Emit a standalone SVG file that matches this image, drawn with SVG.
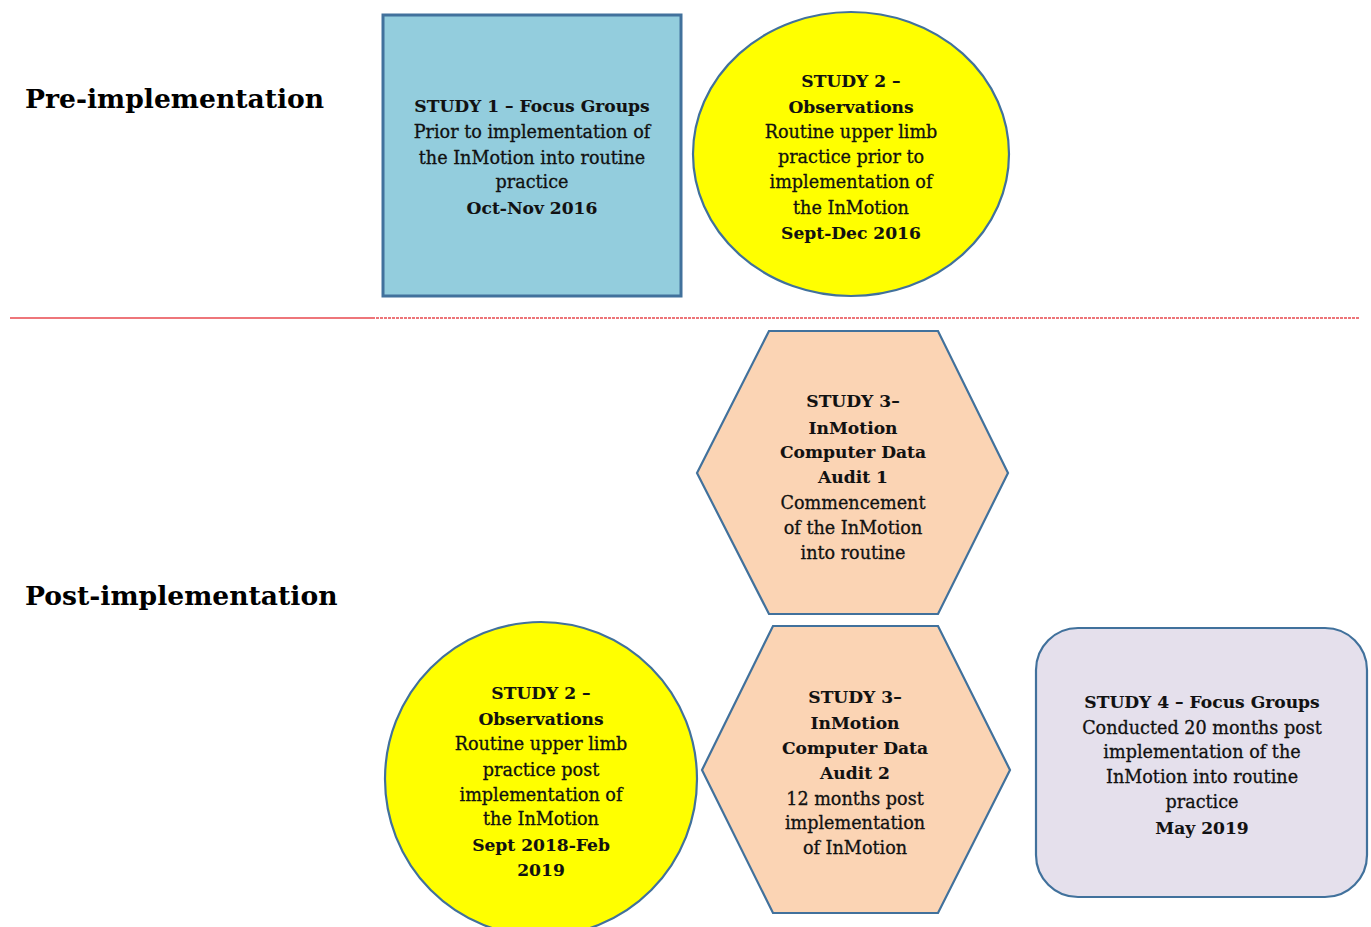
<svg xmlns="http://www.w3.org/2000/svg" width="1371" height="927" viewBox="0 0 1371 927">
<style>
  .shape { stroke: #41719C; stroke-width: 2.2; }
  .t { font-family: "DejaVu Serif", "Liberation Serif", serif; font-size: 17.6px; fill: #111; text-anchor: middle; stroke: #111; stroke-width: 0.3; }
  .b { font-weight: bold; font-size: 17.1px; stroke-width: 0.1; }
  .title { font-family: "DejaVu Serif", "Liberation Serif", serif; font-size: 26.6px; font-weight: bold; fill: #000; }
  .sep { stroke: #E8484E; stroke-width: 1.6; fill: none; }
</style>
<rect width="1371" height="927" fill="#FFFFFF"/>

<g id="labels">
  <text class="title" x="25" y="108">Pre-implementation</text>
  <text class="title" x="25" y="605">Post-implementation</text>
</g>

<g id="connectors">
  <line class="sep" x1="10" y1="318" x2="372" y2="318"/>
  <line class="sep" x1="372" y1="318" x2="1360" y2="318" stroke-dasharray="3 1"/>
</g>

<g id="study1">
  <rect class="shape" x="383" y="15" width="298" height="281" fill="#93CDDD" style="stroke-width:3"/>
  <text class="t b" x="532" y="112">STUDY 1 – Focus Groups</text>
  <text class="t" x="532" y="138">Prior to implementation of</text>
  <text class="t" x="532" y="164">the InMotion into routine</text>
  <text class="t" x="532" y="188">practice</text>
  <text class="t b" x="532" y="214">Oct-Nov 2016</text>
</g>

<g id="study2pre">
  <ellipse class="shape" cx="851" cy="154" rx="158" ry="142" fill="#FFFF00"/>
  <text class="t b" x="851" y="87">STUDY 2 –</text>
  <text class="t b" x="851" y="113">Observations</text>
  <text class="t" x="851" y="138">Routine upper limb</text>
  <text class="t" x="851" y="163">practice prior to</text>
  <text class="t" x="851" y="188">implementation of</text>
  <text class="t" x="851" y="214">the InMotion</text>
  <text class="t b" x="851" y="239">Sept-Dec 2016</text>
</g>

<g id="study3a">
  <polygon class="shape" points="769,331 938,331 1008,473 938,614 769,614 697,473" fill="#FBD4B4"/>
  <text class="t b" x="853" y="407">STUDY 3–</text>
  <text class="t b" x="853" y="434">InMotion</text>
  <text class="t b" x="853" y="458">Computer Data</text>
  <text class="t b" x="853" y="483">Audit 1</text>
  <text class="t" x="853" y="509">Commencement</text>
  <text class="t" x="853" y="534">of the InMotion</text>
  <text class="t" x="853" y="559">into routine</text>
</g>

<g id="study2post">
  <ellipse class="shape" cx="541" cy="779" rx="156" ry="157" fill="#FFFF00"/>
  <text class="t b" x="541" y="699">STUDY 2 –</text>
  <text class="t b" x="541" y="725">Observations</text>
  <text class="t" x="541" y="750">Routine upper limb</text>
  <text class="t" x="541" y="776">practice post</text>
  <text class="t" x="541" y="801">implementation of</text>
  <text class="t" x="541" y="825">the InMotion</text>
  <text class="t b" x="541" y="851">Sept 2018-Feb</text>
  <text class="t b" x="541" y="876">2019</text>
</g>

<g id="study3b">
  <polygon class="shape" points="773,626 938,626 1010,770 938,913 773,913 702,770" fill="#FBD4B4"/>
  <text class="t b" x="855" y="703">STUDY 3–</text>
  <text class="t b" x="855" y="729">InMotion</text>
  <text class="t b" x="855" y="754">Computer Data</text>
  <text class="t b" x="855" y="779">Audit 2</text>
  <text class="t" x="855" y="805">12 months post</text>
  <text class="t" x="855" y="829">implementation</text>
  <text class="t" x="855" y="854">of InMotion</text>
</g>

<g id="study4">
  <rect class="shape" x="1036" y="628" width="331" height="269" rx="42" ry="42" fill="#E5E0EC"/>
  <text class="t b" x="1202" y="708">STUDY 4 – Focus Groups</text>
  <text class="t" x="1202" y="734">Conducted 20 months post</text>
  <text class="t" x="1202" y="758">implementation of the</text>
  <text class="t" x="1202" y="783">InMotion into routine</text>
  <text class="t" x="1202" y="808">practice</text>
  <text class="t b" x="1202" y="834">May 2019</text>
</g>
</svg>
